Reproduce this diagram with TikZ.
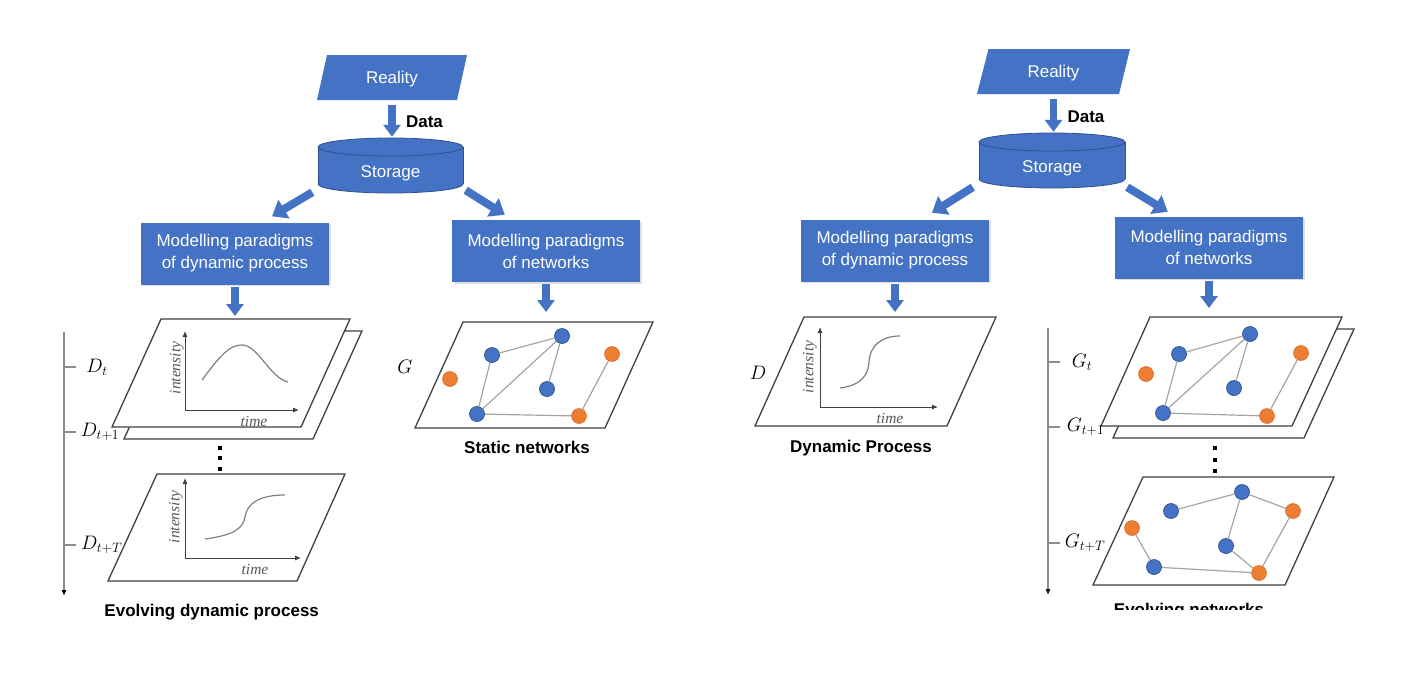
\RequirePackage{fix-cm}
\documentclass[tikz,border=0pt]{standalone}
\usepackage[no-math]{fontspec}
\setmainfont{Liberation Sans}
\newfontfamily\axfont{Liberation Serif}
\usetikzlibrary{arrows.meta,calc,shadows}
\definecolor{mblue}{HTML}{4472C4}
\definecolor{mbluedark}{HTML}{2F528F}
\definecolor{morange}{HTML}{ED7D31}
\definecolor{morangedark}{HTML}{D0651F}
\definecolor{planeline}{HTML}{404040}
\definecolor{edgegray}{HTML}{A5A5A5}
\definecolor{curvegray}{HTML}{808080}
\definecolor{axtext}{HTML}{595959}
\definecolor{tlgray}{HTML}{8C8C8C}
\begin{document}
\begin{tikzpicture}[x=1pt,y=-1pt,
  realitynode/.style={minimum width=#1,minimum height=45pt,inner sep=0pt,text=white,font=\fontsize{17}{20}\selectfont,text height=12pt,text depth=0pt},
  storenode/.style={minimum width=146pt,minimum height=55pt,inner sep=0pt,text=white,font=\fontsize{17}{20}\selectfont,text height=23pt,text depth=0pt},
  modelbox/.style={rectangle,fill=mblue,text=white,align=center,font=\fontsize{17}{22}\selectfont,minimum width=188pt,minimum height=62pt,inner sep=0pt,drop shadow={opacity=0.25,shadow xshift=1.5pt,shadow yshift=-1.5pt}},
  fat/.style={draw=mblue,line width=7.5pt,-{Triangle[length=12pt,width=17pt]}},
  fatdiag/.style={draw=mblue,line width=8pt,-{Triangle[length=14pt,width=21pt]}},
  plane/.style={draw=planeline,line width=1.3pt,fill=white,line join=miter},
  axis/.style={draw=planeline,line width=0.9pt,-{Latex[length=6pt,width=5pt]}},
  curve/.style={draw=curvegray,line width=1.2pt},
  axlabel/.style={font=\axfont\itshape\fontsize{15.5}{17}\selectfont,text=axtext,inner sep=0pt},
  mathlabel/.style={font=\fontsize{19.5}{22}\selectfont,inner sep=0pt},
  boldlabel/.style={font=\bfseries\fontsize{17}{20}\selectfont,inner sep=0pt},
  tline/.style={draw=tlgray,line width=1.1pt},
  tarrow/.style={tline,-{Latex[length=6pt,width=5pt,color=black]}},
  bnode/.style={circle,fill=mblue,draw=mbluedark,line width=0.7pt,minimum size=15pt,inner sep=0pt},
  onode/.style={circle,fill=morange,draw=morangedark,line width=0.5pt,minimum size=15pt,inner sep=0pt},
  gedge/.style={draw=edgegray,line width=1.2pt},
  dotmark/.style={fill=black}
]
\fill[white] (0,0) rectangle (1408,683);
\useasboundingbox (0,0) rectangle (1408,683);

% ===================== LEFT HALF =====================
% Reality
\fill[mblue] (327,55) -- (467,55) -- (457,100) -- (317,100) -- cycle;
\node[realitynode=150pt] (Lreal) at (392,77.5) {Reality};
% Storage cylinder
\fill[mblue,draw=mbluedark,line width=0.8pt] (390.5,184) ellipse [x radius=72.5, y radius=9];
\fill[mblue] (318,147) rectangle (463,184);
\draw[mbluedark,line width=0.8pt] (318,147) -- (318,184) (463,147) -- (463,184);
\fill[mblue,draw=mbluedark,line width=0.8pt] (390.5,147) ellipse [x radius=72.5, y radius=9];
\node[storenode] (Lstore) at (390.5,165.5) {Storage};
\node[boldlabel] (Ldata) at (424.5,121.7) {Data};
\draw[fat,shorten <=5pt,shorten >=1pt] (Lreal.south) -- (Lreal.south |- Lstore.north);

% Model boxes
\node[modelbox] (LmD) at (235,253.5) {Modelling paradigms\\of dynamic process};
\node[modelbox] (LmN) at (546,251) {Modelling paradigms\\of networks};
\draw[fatdiag] ($(Lstore.south west)+(-5,-1)$) -- ($(LmD.north)+(37,-6)$);
\draw[fatdiag] ($(Lstore.south east)+(2,-3)$) -- ($(LmN.north west)+(53,-5)$);

\coordinate (LpA) at (235,316);
\coordinate (LpB) at (546,312);
\draw[fat,shorten <=2pt] (LmD.south) -- (LpA);
\draw[fat,shorten <=2pt] (LmN.south) -- (LpB);

% Evolving dynamic process planes
\draw[plane] (173,331) -- (362,331) -- (313,439) -- (124,439) -- cycle;
\draw[plane] (161,319) -- (350,319) -- (301,427) -- (112,427) -- cycle;
\draw[axis] (185,410) -- (185,331);
\draw[axis] (185,410) -- (299,410);
\draw[curve] (202,380) .. controls (220,356) and (229,345) .. (242,345) .. controls (258,345) and (270,378) .. (288,382);
\node[axlabel,rotate=90] (LiA) at (177,368) {intensity};
\node[axlabel] (LtA) at (254,421) {time};

\fill[dotmark] (218,446) rectangle (222,450);
\fill[dotmark] (218,456) rectangle (222,460);
\fill[dotmark] (218,467) rectangle (222,471);

\draw[plane] (157,474) -- (345,474) -- (297,581) -- (108,581) -- cycle;
\draw[axis] (185,558) -- (185,478);
\draw[axis] (185,558) -- (301,558);
\draw[curve] (205,539) .. controls (235,535) and (243,528) .. (245,517) .. controls (247,503) and (260,495) .. (285,495);
\node[axlabel,rotate=90] (LiB) at (176,517) {intensity};
\node[axlabel] (LtB) at (255,569) {time};

% timeline left
\coordinate (LtlTop) at (64,332);
\coordinate (LtlBot) at (64,596);
\draw[tarrow] (LtlTop) -- (LtlBot);
\draw[tline] (64,367) -- (76,367) (64,432) -- (76,432) (64,545) -- (76,545);
\node[mathlabel] (LD1) at (97,367) {$D_t$};
\node[mathlabel] (LD2) at (100,432) {$D_{t+1}$};
\node[mathlabel] (LD3) at (101.7,545) {$D_{t+T}$};
\node[boldlabel] (Levol) at (211.7,611.7) {Evolving dynamic process};

% Static network
\draw[plane] (463,322) -- (653,322) -- (605,428) -- (415,428) -- cycle;
\node[mathlabel] (LG) at (405,367) {$G$};
\node[bnode] (s1) at (492,355) {};
\node[bnode] (s2) at (562,336) {};
\node[bnode] (s3) at (547,389) {};
\node[bnode] (s4) at (477,414) {};
\node[onode] (s5) at (450,379) {};
\node[onode] (s6) at (612,354) {};
\node[onode] (s7) at (579,416) {};
\draw[gedge] (s1) -- (s2);
\draw[gedge] (s1) -- (s4);
\draw[gedge] (s4) -- (s2);
\draw[gedge] (s2) -- (s3);
\draw[gedge] (s4) -- (s7);
\draw[gedge] (s7) -- (s6);
\node[boldlabel] (Lstatic) at (527,447) {Static networks};

% ===================== RIGHT HALF =====================
\fill[mblue] (988.5,49) -- (1130,49) -- (1119,94) -- (977,94) -- cycle;
\node[realitynode=153pt] (Rreal) at (1053.5,71.5) {Reality};
\fill[mblue,draw=mbluedark,line width=0.8pt] (1052,179) ellipse [x radius=73, y radius=9];
\fill[mblue] (979,142) rectangle (1125,179);
\draw[mbluedark,line width=0.8pt] (979,142) -- (979,179) (1125,142) -- (1125,179);
\fill[mblue,draw=mbluedark,line width=0.8pt] (1052,142) ellipse [x radius=73, y radius=9];
\node[storenode] (Rstore) at (1052,160.5) {Storage};
\node[boldlabel] (Rdata) at (1086,117.2) {Data};
\draw[fat,shorten <=5pt,shorten >=1pt] (Rreal.south) -- (Rreal.south |- Rstore.north);

\node[modelbox] (RmD) at (895,250.5) {Modelling paradigms\\of dynamic process};
\node[modelbox] (RmN) at (1209,247.5) {Modelling paradigms\\of networks};
\draw[fatdiag] ($(Rstore.south west)+(-6,-1)$) -- ($(RmD.north)+(37,-6.5)$);
\draw[fatdiag] ($(Rstore.south east)+(2,-1)$) -- ($(RmN.north west)+(53,-4.5)$);

\coordinate (RpA) at (895,312);
\coordinate (RpB) at (1209,308);
\draw[fat,shorten <=2pt] (RmD.south) -- (RpA);
\draw[fat,shorten <=2pt] (RmN.south) -- (RpB);

% Dynamic process plane
\draw[plane] (804,317) -- (996,317) -- (947,426) -- (755,426) -- cycle;
\draw[axis] (820,407) -- (820,327);
\draw[axis] (820,407) -- (938,407);
\draw[curve] (840,388) .. controls (862,385) and (868,375) .. (869,362) .. controls (870,345) and (882,336) .. (900,336);
\node[axlabel,rotate=90] (RiA) at (810,367) {intensity};
\node[axlabel] (RtA) at (890,418) {time};
\node[mathlabel] (RD) at (758,373) {$D$};
\node[boldlabel] (Rdyn) at (861,447.7) {Dynamic Process};

% Evolving networks planes
\draw[plane] (1162,329) -- (1354,329) -- (1304,438) -- (1113,438) -- cycle;
\draw[plane] (1150,317) -- (1342,317) -- (1292,426) -- (1101,426) -- cycle;
\node[bnode] (r1) at (1179,354) {};
\node[bnode] (r2) at (1250,334) {};
\node[bnode] (r3) at (1234,388) {};
\node[bnode] (r4) at (1163,413) {};
\node[onode] (r5) at (1146,374) {};
\node[onode] (r6) at (1301,353) {};
\node[onode] (r7) at (1267,416) {};
\draw[gedge] (r1) -- (r2);
\draw[gedge] (r1) -- (r4);
\draw[gedge] (r4) -- (r2);
\draw[gedge] (r2) -- (r3);
\draw[gedge] (r4) -- (r7);
\draw[gedge] (r7) -- (r6);

\fill[dotmark] (1213,446) rectangle (1217,450);
\fill[dotmark] (1213,458) rectangle (1217,462);
\fill[dotmark] (1213,469) rectangle (1217,473);

\draw[plane] (1143,477) -- (1334,477) -- (1285,585) -- (1093,585) -- cycle;
\node[bnode] (q1) at (1171,511) {};
\node[bnode] (q2) at (1242,492) {};
\node[onode] (q3) at (1293,511) {};
\node[onode] (q4) at (1132,528) {};
\node[bnode] (q5) at (1226,546) {};
\node[bnode] (q6) at (1154,567) {};
\node[onode] (q7) at (1259,573) {};
\draw[gedge] (q1) -- (q2);
\draw[gedge] (q2) -- (q3);
\draw[gedge] (q2) -- (q5);
\draw[gedge] (q5) -- (q7);
\draw[gedge] (q3) -- (q7);
\draw[gedge] (q4) -- (q6);
\draw[gedge] (q6) -- (q7);

% timeline right
\coordinate (RtlTop) at (1048,328);
\coordinate (RtlBot) at (1048,595);
\draw[tarrow] (RtlTop) -- (RtlBot);
\draw[tline] (1048,362) -- (1060,362) (1048,427) -- (1060,427) (1048,543) -- (1060,543);
\node[mathlabel] (RG1) at (1082,362) {$G_t$};
\node[mathlabel] (RG2) at (1085.5,427) {$G_{t+1}$};
\node[mathlabel] (RG3) at (1085,543) {$G_{t+T}$};

\begin{scope}
\clip (1000,590) rectangle (1400,609.5);
\node[boldlabel] (Revol) at (1189,610.7) {Evolving networks};
\end{scope}
\end{tikzpicture}
\end{document}
